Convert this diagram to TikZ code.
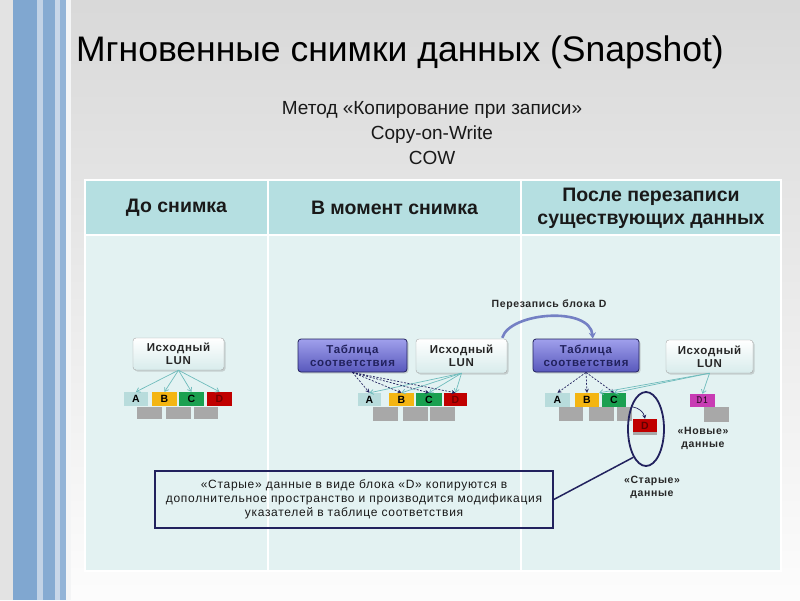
\documentclass[tikz,border=0pt]{standalone}
\usepackage{fontspec}
\setmainfont{Liberation Sans}
\newfontfamily\spaced{Liberation Sans}[LetterSpace=6]
\usetikzlibrary{arrows.meta,shapes.geometric,shadows}
\definecolor{stripeA}{HTML}{80A7D0}
\definecolor{stripeB}{HTML}{C2D3E6}
\definecolor{hdrfill}{HTML}{B5DFE1}
\definecolor{bodyfill}{HTML}{E3F2F2}
\definecolor{tabtop}{HTML}{A0A0EC}
\definecolor{tabbot}{HTML}{5858BC}
\definecolor{navy}{HTML}{22225E}
\definecolor{tealarr}{HTML}{6FBCBC}
\definecolor{blkA}{HTML}{B8DCDC}
\definecolor{blkB}{HTML}{F4B512}
\definecolor{blkC}{HTML}{1AA050}
\definecolor{blkD}{HTML}{C00000}
\definecolor{blkG}{HTML}{A8A8A8}
\definecolor{blkM}{HTML}{C83CB4}
\definecolor{arcc}{HTML}{7480C4}
\tikzset{
  lunbox/.style={draw=gray!70, rounded corners=3pt, top color=white, bottom color=blkA!55,
    inner sep=0pt, align=center, font=\spaced\bfseries\fontsize{11.5}{13}\selectfont, text=black!85,
    drop shadow={shadow xshift=1.5pt, shadow yshift=-1.5pt, opacity=0.3}},
  tabbox/.style={draw=navy, line width=0.8pt, rounded corners=3pt, top color=tabtop, bottom color=tabbot,
    inner sep=0pt, align=center, font=\spaced\bfseries\fontsize{11.5}{13}\selectfont, text=navy,
    drop shadow={shadow xshift=1.5pt, shadow yshift=-1.5pt, opacity=0.3}},
  blk/.style={inner sep=0pt, minimum height=14, font=\bfseries\fontsize{10.5}{10}\selectfont},
  gblk/.style={fill=blkG, inner sep=0pt, minimum height=14},
  tarr/.style={draw=tealarr, line width=0.7pt, -{Straight Barb[length=3.5pt,width=5pt]}},
  darr/.style={draw=navy, line width=0.7pt, dash pattern=on 2pt off 1.5pt, -{Stealth[length=4pt,width=4pt]}},
  hdrtext/.style={font=\bfseries\fontsize{19.5}{23}\selectfont, align=center, text=black!90},
  lbl/.style={font=\spaced\bfseries\fontsize{10.5}{13}\selectfont, align=center, text=black!85},
}
\begin{document}
\begin{tikzpicture}[x=1pt,y=-1pt]
\useasboundingbox (0,0) rectangle (800,600);
% background
\shade[top color=black!15, bottom color=black!1] (0,0) rectangle (800,600);
\fill[black!11] (0,0) rectangle (13,600);
\fill[stripeA] (13,0) rectangle (37,600);
\fill[stripeB] (37,0) rectangle (43,600);
\fill[stripeA!95!white] (43,0) rectangle (55,600);
\fill[stripeB!90!white] (55,0) rectangle (60,600);
\fill[stripeA!85!white] (60,0) rectangle (66,600);
\fill[stripeB!60!black!8] (66,0) rectangle (71,600);
% title
\node[font=\fontsize{35.5}{40}\selectfont, text=black] (title) at (400,52) {Мгновенные снимки данных (Snapshot)};
\node[font=\fontsize{19}{25}\selectfont, align=center, text=black!90] (sub) at (432,133)
  {Метод «Копирование при записи»\\Copy-on-Write\\COW};
% table
\fill[bodyfill] (85,235) rectangle (781,571);
\fill[hdrfill] (85,180) rectangle (781,235);
\draw[white, line width=1.2pt] (85,180) rectangle (781,571);
\draw[white, line width=1.5pt] (85,235) -- (781,235);
\draw[white, line width=1.2pt] (268,180) -- (268,571);
\draw[white, line width=1.2pt] (521,180) -- (521,571);
\node[hdrtext] (h1) at (176.5,208) {До снимка};
\node[hdrtext] (h2) at (394.5,208) {В момент снимка};
\node[hdrtext] (h3) at (651,208) {После перезаписи\\существующих данных};
% column 1
\node[lunbox, minimum width=91, minimum height=32] (lun1) at (178.5,354) {Исходный\\LUN};
\node[gblk, minimum width=25, minimum height=12] (g1a) at (149.5,413) {};
\node[gblk, minimum width=25, minimum height=12] (g1b) at (178.5,413) {};
\node[gblk, minimum width=24, minimum height=12] (g1c) at (206,413) {};
\node[blk, fill=blkA, minimum width=24] (a1) at (136,399) {A};
\node[blk, fill=blkB, minimum width=25] (b1) at (164.5,399) {B};
\node[blk, fill=blkC, minimum width=25] (c1) at (191.5,399) {C};
\node[blk, fill=blkD, minimum width=25, text=blkD!60!black] (d1) at (219.5,399) {D};
\foreach \t in {a1,b1,c1,d1} \draw[tarr] (lun1.south) -- (\t.north);
% column 2
\node[tabbox, minimum width=109, minimum height=33] (tab2) at (352.5,355.5) {Таблица\\соответствия};
\node[lunbox, minimum width=91, minimum height=34] (lun2) at (461.5,356) {Исходный\\LUN};
\node[gblk, minimum width=25] (g2a) at (385.5,414) {};
\node[gblk, minimum width=25] (g2b) at (415.5,414) {};
\node[gblk, minimum width=25] (g2c) at (442.5,414) {};
\node[blk, fill=blkA, minimum width=23, minimum height=13] (a2) at (369.5,399.5) {A};
\node[blk, fill=blkB, minimum width=25, minimum height=13] (b2) at (401.5,399.5) {B};
\node[blk, fill=blkC, minimum width=26, minimum height=13] (c2) at (429,399.5) {C};
\node[blk, fill=blkD, minimum width=23, minimum height=13, text=blkD!60!black] (d2) at (455.5,399.5) {D};
\foreach \t in {a2,b2,c2,d2} \draw[tarr] (lun2.south) -- (\t.north);
\foreach \t in {a2,b2,c2,d2} \draw[darr] (tab2.south) -- (\t.north);
% column 3
\node[lbl] (rw) at (549,305) {Перезапись блока D};
\node[tabbox, minimum width=106, minimum height=33] (tab3) at (586,355.5) {Таблица\\соответствия};
\node[lunbox, minimum width=87, minimum height=33] (lun3) at (709.5,356.5) {Исходный\\LUN};
\draw[arcc, line width=2.6pt, -{Stealth[length=6pt,width=7pt]}] (lun2.north east) ++(-5,-1)
  .. controls (510,312) and (590,306) .. (tab3.68);
\node[gblk, minimum width=24] (g3a) at (571,414) {};
\node[gblk, minimum width=25] (g3b) at (601.5,414) {};
\node[gblk, minimum width=15] (g3c) at (624.5,414) {};
\node[blk, fill=blkA, minimum width=25] (a3) at (557.5,400) {A};
\node[blk, fill=blkB, minimum width=24] (b3) at (587,400) {B};
\node[blk, fill=blkC, minimum width=24] (c3) at (614,400) {C};
\node[gblk, minimum width=24, minimum height=3] (g3d) at (645,433.5) {};
\node[blk, fill=blkD, minimum width=24, minimum height=13, text=blkD!50!black] (d3) at (645,425.5) {D};
\node[gblk, minimum width=25, minimum height=15] (g3e) at (716.5,414.5) {};
\node[blk, fill=blkM, minimum width=25, minimum height=13, text=blkM!25!black,
  font=\ttfamily\bfseries\fontsize{11}{10}\selectfont] (dd1) at (702.5,400.5) {D1};
\foreach \t in {a3,b3,c3} \draw[darr] (tab3.south) -- (\t.north);
\draw[tarr] (lun3.south) -- (b3.north east);
\draw[tarr] (lun3.south) -- (c3.north);
\draw[tarr] (lun3.south) -- (dd1.north);
\draw[navy, line width=0.7pt, -{Stealth[length=4pt,width=4pt]}] (g3c.north east) to[bend left=35] (d3.north);
\node[ellipse, draw=navy, line width=1.8pt, minimum width=36, minimum height=74, inner sep=0pt] (ell) at (646,429) {};
\node[lbl] (newd) at (703,438) {«Новые»\\данные};
\node[lbl] (oldd) at (652,487.5) {«Старые»\\данные};
% callout
\node[draw=navy, line width=1.6pt, minimum width=398, minimum height=57, inner sep=0pt, align=center,
  font=\spaced\fontsize{12}{14}\selectfont, text=black!90] (callout) at (354,499.5)
  {«Старые» данные в виде блока «D» копируются в\\дополнительное пространство и производится модификация\\указателей в таблице соответствия};
\draw[navy, line width=1.5pt] (callout.east) -- (ell.246);
\end{tikzpicture}
\end{document}
